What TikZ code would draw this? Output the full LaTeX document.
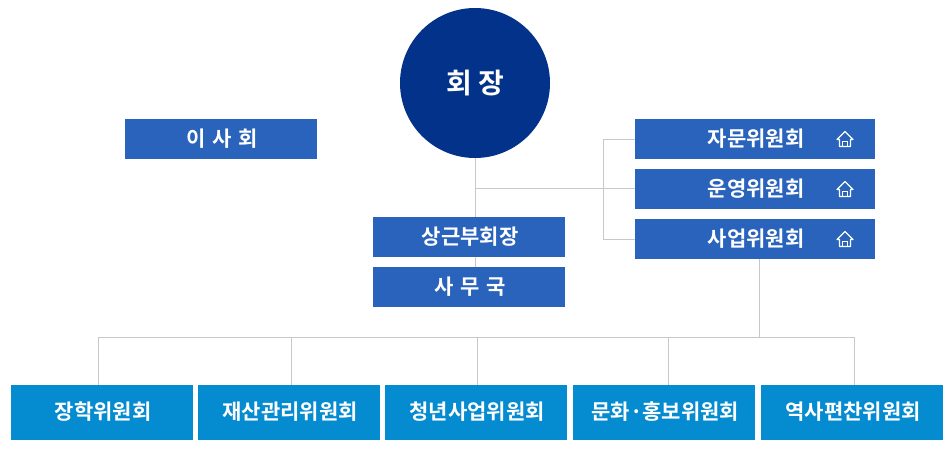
\documentclass[tikz,border=0pt]{standalone}
\usepackage{fontspec}
\setmainfont{Noto Sans CJK KR}[BoldFont={Noto Sans CJK KR Bold}]
\usetikzlibrary{positioning}
\definecolor{boxblue}{HTML}{2963BB}
\definecolor{subblue}{HTML}{058BD0}
\definecolor{chiefblue}{HTML}{03328A}
\definecolor{linegray}{HTML}{C8C8C8}
\newcommand{\morespace}{\hspace{2pt}}
\tikzset{
  every node/.style={outer sep=0pt},
  board/.style={fill=boxblue, text=white, font=\bfseries\fontsize{21}{24}\selectfont, minimum width=192pt, minimum height=40pt, inner sep=0pt, text height=15pt, text depth=0.6pt, execute at begin node=\hspace*{2.5pt}},
  wide/.style={board, minimum width=240pt},
  sub/.style={board, fill=subblue, minimum width=182pt, minimum height=55pt},
  conn/.style={draw=linegray, line width=1pt},
  homeicon/.pic={
    \draw[white, line width=1.2pt, line join=round, fill=none] (-8,0.5) -- (0,-7.5) -- (8,0.5) -- (5.5,0.5) -- (5.5,7.5) -- (-5.5,7.5) -- (-5.5,0.5) -- cycle;
    \draw[white, line width=1.2pt] (-2.5,7.5) -- (-2.5,2.5) -- (2.5,2.5) -- (2.5,7.5);
  }
}
\begin{document}
\begin{tikzpicture}[x=1pt, y=-1pt]
    \useasboundingbox (0,0) rectangle (945,453);

    \node[circle, fill=chiefblue, text=white, minimum size=150pt, inner sep=0pt, font=\bfseries\fontsize{28}{32}\selectfont] (chief) at (475,83) {회 장};
    \node[board] (board) at (221,139) {이 \morespace{}사 \morespace{}회};

    \node[wide] (advice) at (755,139) {자문위원회};
    \node[wide, below=10pt of advice] (manage) {운영위원회};
    \node[wide, below=10pt of manage] (business) {사업위원회};

    \node[board] (vice) at (469,237) {상근부회장};
    \node[board, below=10pt of vice] (office) {사 \morespace{}무 \morespace{}국};

    \node[sub] (scholar) at (102,412.5) {장학위원회};
    \node[sub, right=5pt of scholar] (asset) {재산관리위원회};
    \node[sub, right=5pt of asset] (youth) {청년사업위원회};
    \node[sub, right=6pt of youth] (culture) {문화·홍보위원회};
    \node[sub, right=6pt of culture] (history) {역사편찬위원회};

    \foreach \name in {advice, manage, business}
        \pic at (\name.center -| 845,0) {homeicon};

    % lines
    \coordinate (split) at (chief.south |- 0,188);
    \coordinate (rail) at (603,188);
    \coordinate (busdown) at (759,337);

    \draw[conn] (chief.south) -- (chief.south |- vice.north);
    \draw[conn] (chief.south |- vice.south) -- (chief.south |- office.north);
    \draw[conn] (split) -- (split -| manage.west);
    \draw[conn] (advice.west) -- (advice.west -| rail) -- (business.west -| rail) -- (business.west);
    \draw[conn] (busdown |- business.south) -- (busdown);

    \draw[conn] (98,385 |- scholar.north) -- (98,337) -- (854,337) -- (854,385 |- history.north);
    \draw[conn] (291,337) -- (291,337 |- asset.north);
    \draw[conn] (477,337) -- (477,337 |- youth.north);
    \draw[conn] (668,337) -- (668,337 |- culture.north);
\end{tikzpicture}
\end{document}
